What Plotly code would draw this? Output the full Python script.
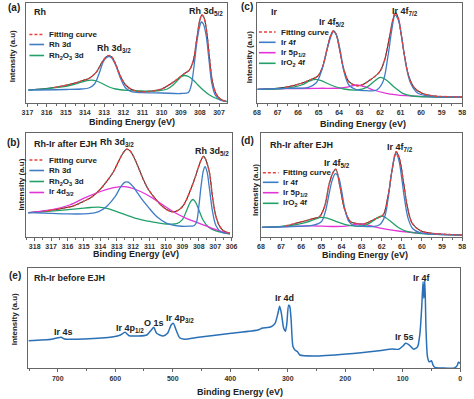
import plotly.graph_objects as go

W, H = 474, 399
FONT = "Liberation Sans"

# ---------------- Panel (a): Rh 3d of Rh ----------------
a_fit_E = [316.95, 315.6, 314.7, 314.1, 313.75, 313.4, 313.1, 312.9, 312.75, 312.6, 312.4, 312.15, 311.85, 311.5,
           311.0, 310.5, 310.0, 309.5, 309.1, 308.8, 308.55, 308.35, 308.15, 308.0, 307.9, 307.8, 307.65, 307.5,
           307.35, 307.15, 306.9, 306.6]
a_fit_I = [13, 15.5, 19, 22.5, 25, 31, 41, 46, 47.5, 46, 39, 27, 17.5, 13, 11.3, 12, 14, 19.5, 25, 29.5, 33, 42,
           66, 83, 88, 86, 72, 45, 22, 9, 3.5, 1.5]
a_rh_E = [316.95, 315.0, 314.2, 313.8, 313.5, 313.25, 313.05, 312.9, 312.75, 312.6, 312.4, 312.15, 311.9, 311.6,
          311.0, 310.0, 309.0, 308.6, 308.45, 308.3, 308.15, 308.02, 307.92, 307.82, 307.68, 307.52, 307.38, 307.2,
          306.95, 306.6]
a_rh_I = [13, 13.5, 14, 15, 19, 30, 41, 45, 46.5, 45, 38, 25, 15.5, 11.5, 10.3, 10, 9.5, 10.5, 18, 38, 62, 76, 81,
          79, 68, 42, 20, 8, 3, 1.5]
a_ox_E = [316.95, 316.0, 315.3, 314.7, 314.2, 313.9, 313.65, 313.4, 313.1, 312.8, 312.4, 311.8, 311.0, 310.2, 309.7,
          309.4, 309.15, 308.95, 308.8, 308.6, 308.35, 308.1, 307.8, 307.5, 307.2, 306.9, 306.6]
a_ox_I = [13, 14.2, 15.8, 18, 20.8, 22.3, 22.8, 22, 19.5, 16.5, 14, 12.6, 12, 12.2, 14, 18, 23, 26.5, 27.5, 26.5, 23,
          18, 12.5, 8, 5, 3, 1.5]

# ---------------- Panel (b): Rh 3d of Rh-Ir after EJH ----------------
b_fit_E = [318.4, 317.5, 316.9, 316.2, 315.6, 315.0, 314.5, 314.0, 313.6, 313.2, 312.9, 312.6, 312.4, 312.2, 312.0,
           311.7, 311.4, 311.1, 310.7, 310.3, 309.95, 309.6, 309.3, 309.0, 308.75, 308.5, 308.25, 308.05, 307.85,
           307.7, 307.55, 307.35, 307.15, 306.95, 306.75, 306.5, 306.1]
b_fit_I = [24, 25.3, 26.7, 28.7, 31, 35.5, 40, 47.5, 55.5, 65, 75, 84, 87.5, 86, 81, 70, 58, 48, 39, 31.5, 27, 25,
           26, 30, 37, 47, 58, 68, 77, 80.5, 76, 64, 38, 20, 11, 6, 3.4]
b_rh_E = [318.4, 317.0, 316.0, 315.0, 314.5, 314.1, 313.6, 313.1, 312.75, 312.5, 312.3, 312.0, 311.7, 311.4, 311.1,
          310.55, 309.95, 309.2, 308.6, 308.3, 308.15, 308.0, 307.85, 307.72, 307.62, 307.5, 307.35, 307.15, 306.95,
          306.7, 306.4, 306.1]
b_rh_I = [24, 23.3, 22.8, 22.8, 23.5, 25, 30.5, 40, 50, 54.5, 54.5, 50, 43, 36, 30, 20, 13.4, 10.7, 10.5, 11, 14, 30,
          52, 66, 70, 65, 48, 24, 11, 5.5, 3.5, 3]
b_ox_E = [318.4, 317.3, 316.3, 315.3, 314.6, 314.1, 313.6, 313.0, 312.4, 311.9, 310.9, 309.95, 309.35, 309.0, 308.75,
          308.5, 308.35, 308.2, 308.0, 307.75, 307.4, 306.9, 306.5, 306.1]
b_ox_I = [24, 25, 26.5, 28, 29.2, 29.6, 28.3, 25, 21.5, 18.6, 15, 12.7, 13, 17, 26, 35, 37.2, 34.5, 27, 17, 9.5, 5.5,
          3.8, 2.7]
b_ir_E = [318.4, 316.86, 315.87, 314.88, 313.9, 313.1, 312.5, 311.92, 311.13, 310.34, 309.55, 308.76, 307.97, 307.19,
          306.4, 306.1]
b_ir_I = [24, 27.4, 31.7, 39.4, 45.7, 49.4, 50, 47.7, 41.7, 33.4, 25, 18.4, 13.4, 8.4, 4, 3.4]

# ---------------- Panel (c): Ir 4f of Ir ----------------
c_fit_E = [67.97, 66.62, 65.83, 65.35, 65.03, 64.8, 64.56, 64.4, 64.27, 64.13, 64.0, 63.76, 63.52, 63.13, 62.89,
           62.49, 62.02, 61.78, 61.54, 61.38, 61.25, 61.11, 60.98, 60.83, 60.62, 60.35, 59.95, 59.48, 58.68, 58.0]
c_fit_I = [13.7, 15.7, 19.7, 23.7, 27, 36.3, 56.3, 68, 72.3, 68, 56.3, 33, 21.3, 17.3, 18, 23, 31.3, 43, 66.3, 83,
           90.3, 84.7, 69.7, 49.7, 28, 15.7, 9.7, 7.3, 6.3, 6]
c_ir_E = [67.97, 66.62, 65.5, 65.11, 64.84, 64.59, 64.4, 64.27, 64.13, 63.95, 63.76, 63.52, 63.2, 62.65, 62.17, 61.86,
          61.62, 61.43, 61.27, 61.11, 60.95, 60.75, 60.51, 60.19, 59.63, 58.0]
c_ir_I = [13.7, 14.7, 15.7, 20.3, 33, 53, 66.3, 71.3, 68, 53, 31.3, 18, 13.7, 12.3, 13, 21.3, 46.3, 73, 88, 83, 66.3,
          39.7, 19.7, 10.3, 7, 6]
c_5p_E = [67.97, 66.62, 65.03, 63.92, 63.52, 63.13, 62.73, 62.33, 61.7, 60.75, 59.48, 58.0]
c_5p_I = [13.7, 14.3, 14.7, 15, 16.3, 18, 16.3, 13, 9.7, 7.3, 6.3, 5.7]
c_ox_E = [67.97, 66.62, 65.83, 65.43, 65.16, 64.87, 64.4, 63.76, 63.13, 62.65, 62.25, 61.98, 61.7, 61.3, 60.9, 60.43,
          59.48, 58.0]
c_ox_I = [13.7, 14.7, 18, 22, 23.7, 22.3, 18, 14, 13, 15.7, 22.3, 25.7, 23, 15.7, 9.7, 7, 6, 5.7]

# ---------------- Panel (d): Ir 4f of Rh-Ir after EJH ----------------
d_fit_E = [67.95, 66.79, 65.98, 65.33, 65.09, 64.84, 64.6, 64.42, 64.28, 64.07, 63.83, 63.55, 63.31, 62.9, 62.26,
           61.93, 61.69, 61.48, 61.28, 61.12, 60.93, 60.72, 60.48, 60.07, 59.5, 58.0]
d_fit_I = [9.4, 10.7, 15, 18.4, 20, 30, 53.4, 64, 67.4, 50, 26.7, 15, 13.4, 12.7, 18.4, 21.7, 40, 66.7, 85, 78.4,
           56.7, 30, 13.4, 6, 3.4, 1.7]
d_ir_E = [67.95, 66.5, 65.4, 65.0, 64.8, 64.6, 64.45, 64.3, 64.15, 64.0, 63.82, 63.62, 63.4, 63.0, 62.4, 62.1, 61.85,
          61.68, 61.52, 61.38, 61.28, 61.15, 61.0, 60.85, 60.68, 60.45, 60.1, 59.5, 58.0]
d_ir_I = [9.4, 10.2, 11.5, 15, 25, 44, 57, 63, 60, 47, 27, 15, 11.2, 10.4, 10.2, 12, 20, 38, 62, 78, 83, 77, 58, 36,
          18, 8, 4, 2.5, 1.7]
d_5p_E = [67.95, 66.5, 65.5, 64.5, 63.8, 63.4, 63.1, 62.8, 62.4, 61.8, 61.0, 60.0, 59.0, 58.0]
d_5p_I = [9.4, 10.4, 10.8, 10.2, 10.5, 11.8, 12.8, 12, 10, 7.5, 5.2, 3.5, 2.3, 1.7]
d_ox_E = [67.95, 66.6, 65.8, 65.3, 65.0, 64.7, 64.3, 63.8, 63.3, 62.8, 62.45, 62.15, 62.0, 61.8, 61.5, 61.15, 60.7,
          60.0, 58.0]
d_ox_I = [9.4, 11, 14, 17.5, 19.4, 18.5, 15.5, 12, 10.5, 11.5, 15.5, 19.5, 20.7, 19, 14.5, 9, 5, 3, 1.7]

# ---------------- Panel (e): survey of Rh-Ir before EJH ----------------
e_E = [751, 711, 700, 694, 688, 654, 603, 591, 583, 576, 560, 545, 537, 533, 528, 517, 509, 503, 499, 494, 488,
       480, 455, 398, 352, 345, 329, 322, 317, 314, 311, 307, 304, 301.5, 298.5, 296.5, 294, 291, 287, 283, 279,
       255, 198, 141, 118, 107, 100, 95, 89, 81, 74, 70, 67, 64.6, 63.2, 61.5, 59.5, 57, 54, 50, 47, 44, 30, 10,
       5, 3, 1, 0]
e_I = [27.6, 29, 30.5, 31, 29.3, 29.3, 31.6, 33.3, 36, 32.6, 32.3, 33.3, 38.5, 41, 35, 32.3, 35, 43, 45, 38, 30.5,
       29, 31, 35, 38.3, 40, 41.6, 45, 55, 62, 55, 40, 37, 45, 63, 62, 48, 22, 18, 16.6, 13.3, 12.3, 14.3, 17.6,
       19.3, 19, 22, 25, 23.5, 19, 21.6, 35, 60, 86.5, 70, 88, 40, 12, 6.5, 7.5, 3, 1, 0.3, 0.3, 3, 6, 5.5, 4.6]

# ---------------- colours ----------------
C_RAW = "#3a3a3a"
C_FIT = "#e8403c"
C_BLUE = "#3f7cc6"
C_GREEN = "#22a06a"
C_MAG = "#e233d8"
C_SURVEY = "#2a70b6"
C_AXIS = "#666666"
C_TEXT = "#222222"


def px(x):
    return x / W


def py(y):
    return 1 - y / H


panels = [
    # name, x pixel span, y pixel span, x range, y range, dtick, minor
    ("", (22, 227), (2.5, 103), [317.05, 306.6], [0, 100.5], 1, 0.5),
    ("2", (22, 232), (132.7, 236.7), [318.5, 306.0], [0, 104], 1, 0.5),
    ("3", (258, 468), (2.5, 103), [68, 58], [0, 100.5], 1, 0.5),
    ("4", (262, 468), (132.7, 236.7), [68, 58], [0, 104], 1, 0.5),
    ("5", (24, 466), (268, 368.3), [751, 0], [0, 100.3], 100, 50),
]

fig = go.Figure()
layout = dict(
    width=W, height=H, margin=dict(l=0, r=0, t=0, b=0),
    paper_bgcolor="white", plot_bgcolor="white", showlegend=False,
    font=dict(family=FONT, color=C_TEXT),
)
for name, (x0, x1), (y0, y1), xr, yr, dt, mn in panels:
    layout["xaxis" + name] = dict(
        domain=[px(x0), px(x1)], range=xr, anchor="y" + name,
        showline=True, linecolor=C_AXIS, linewidth=1, mirror=True,
        ticks="outside", ticklen=3, tickwidth=1, tickcolor=C_AXIS, dtick=dt,
        minor=dict(ticks="outside", ticklen=2, dtick=mn, tickcolor=C_AXIS),
        tickfont=dict(size=7, family=FONT, weight="bold", color="#333"),
        showgrid=False, zeroline=False, fixedrange=True,
    )
    layout["yaxis" + name] = dict(
        domain=[py(y1), py(y0)], range=yr, anchor="x" + name,
        showline=True, linecolor=C_AXIS, linewidth=1, mirror=True,
        showticklabels=False, ticks="", showgrid=False, zeroline=False, fixedrange=True,
    )
fig.update_layout(**layout)


def line(E, I, ax, color, width=1.3, dash="solid", smooth=1.0):
    fig.add_trace(go.Scatter(
        x=E, y=I, mode="lines", xaxis="x" + ax, yaxis="y" + ax,
        line=dict(color=color, width=width, dash=dash, shape="spline", smoothing=smooth),
        hoverinfo="skip"))


# (a)
line(a_fit_E, a_fit_I, "", C_RAW, 1.1)
line(a_ox_E, a_ox_I, "", C_GREEN)
line(a_rh_E, a_rh_I, "", C_BLUE)
line(a_fit_E[1:], a_fit_I[1:], "", C_FIT, 1.4, "3px,2px")
# (b)
line(b_fit_E, b_fit_I, "2", C_RAW, 1.1)
line(b_ox_E, b_ox_I, "2", C_GREEN)
line(b_ir_E, b_ir_I, "2", C_MAG)
line(b_rh_E, b_rh_I, "2", C_BLUE)
line(b_fit_E[1:], b_fit_I[1:], "2", C_FIT, 1.4, "3px,2px")
# (c)
line(c_fit_E, c_fit_I, "3", C_RAW, 1.1)
line(c_5p_E, c_5p_I, "3", C_MAG)
line(c_ox_E, c_ox_I, "3", C_GREEN)
line(c_ir_E, c_ir_I, "3", C_BLUE)
line(c_fit_E[1:], c_fit_I[1:], "3", C_FIT, 1.4, "3px,2px")
# (d)
line(d_fit_E, d_fit_I, "4", C_RAW, 1.1)
line(d_5p_E, d_5p_I, "4", C_MAG)
line(d_ox_E, d_ox_I, "4", C_GREEN)
line(d_ir_E, d_ir_I, "4", C_BLUE)
line(d_fit_E[1:], d_fit_I[1:], "4", C_FIT, 1.4, "3px,2px")
# (e)
line(e_E, e_I, "5", C_SURVEY, 1.5, smooth=0.6)

annotations = []
shapes = []


def ann(text, x, y, size, xanchor="center", angle=0, color=C_TEXT):
    annotations.append(dict(
        text=text, x=px(x), y=py(y), xref="paper", yref="paper", showarrow=False,
        xanchor=xanchor, yanchor="middle", textangle=angle,
        font=dict(size=size, family=FONT, weight="bold", color=color)))


# panel letters
for t, x, y in [("(a)", 9, 7), ("(b)", 9, 142), ("(c)", 248, 6), ("(d)", 248, 141), ("(e)", 10, 275)]:
    ann(t, x, y, 10)
# sample titles
ann("Rh", 28, 12, 9, "left")
ann("Rh-Ir after EJH", 28, 144, 9, "left")
ann("Ir", 270, 12, 9, "left")
ann("Rh-Ir after EJH", 269, 145, 9, "left")
ann("Rh-Ir before EJH", 28, 278, 9, "left")
# y titles
for x, y in [(7.5, 56), (17, 185), (251, 57), (256, 190), (10, 319.5)]:
    ann("Intensity (a.u)", x, y, 8, angle=-90)
# x titles
for x, y, s in [(130, 122, 9), (134, 254, 9), (367, 123.5, 9), (369, 255, 9), (241, 392, 9)]:
    ann("Binding Energy (eV)", x, y, s)
# peak labels
ann("Rh 3d<sub>3/2</sub>", 112, 49, 9)
ann("Rh 3d<sub>5/2</sub>", 206, 11, 9)
ann("Rh 3d<sub>3/2</sub>", 115, 142, 9)
ann("Rh 3d<sub>5/2</sub>", 212, 151, 9)
ann("Ir 4f<sub>5/2</sub>", 335, 22.5, 9)
ann("Ir 4f<sub>7/2</sub>", 410, 11, 9)
ann("Ir 4f<sub>5/2</sub>", 340, 163, 9)
ann("Ir 4f<sub>7/2</sub>", 404, 147, 9)
ann("Ir 4s", 60, 332, 9)
ann("Ir 4p<sub>1/2</sub>", 128, 328, 9)
ann("O 1s", 153, 323, 9)
ann("Ir 4p<sub>3/2</sub>", 179, 318, 9)
ann("Ir 4d", 286, 298, 9)
ann("Ir 5s", 409, 337, 9)
ann("Ir 4f", 427, 278, 9)

# legends (swatch + text)
legends = [
    ((25, 40, 43), [34.5, 44.5, 55.5],
     [("Fitting curve", C_FIT, "dash"), ("Rh 3d", C_BLUE, "solid"),
      ("Rh<sub>2</sub>O<sub>3</sub> 3d", C_GREEN, "solid")]),
    ((25, 40, 43), [160, 170.5, 181.5, 192.5],
     [("Fitting curve", C_FIT, "dash"), ("Rh 3d", C_BLUE, "solid"),
      ("Rh<sub>2</sub>O<sub>3</sub> 3d", C_GREEN, "solid"), ("Ir 4d<sub>3/2</sub>", C_MAG, "solid")]),
    ((260, 277, 280), [32, 42.3, 52.7, 63.3],
     [("Fitting curve", C_FIT, "dash"), ("Ir 4f", C_BLUE, "solid"),
      ("Ir 5p<sub>1/2</sub>", C_MAG, "solid"), ("IrO<sub>2</sub> 4f", C_GREEN, "solid")]),
    ((264, 280, 283), [172.7, 182.3, 192.7, 203.3],
     [("Fitting curve", C_FIT, "dash"), ("Ir 4f", C_BLUE, "solid"),
      ("Ir 5p<sub>1/2</sub>", C_MAG, "solid"), ("IrO<sub>2</sub> 4f", C_GREEN, "solid")]),
]
for (lx0, lx1, tx), ys, items in legends:
    for y, (label, color, dash) in zip(ys, items):
        shapes.append(dict(type="line", xref="paper", yref="paper", x0=px(lx0), x1=px(lx1),
                           y0=py(y), y1=py(y),
                           line=dict(color=color, width=1.6 if dash == "solid" else 1.4,
                                     dash="3px,2px" if dash == "dash" else "solid")))
        ann(label, tx, y, 8, "left")

fig.update_layout(annotations=annotations, shapes=shapes)
fig.write_html("out.html", config={"displayModeBar": False},
               post_script="document.body.style.margin='0';")
